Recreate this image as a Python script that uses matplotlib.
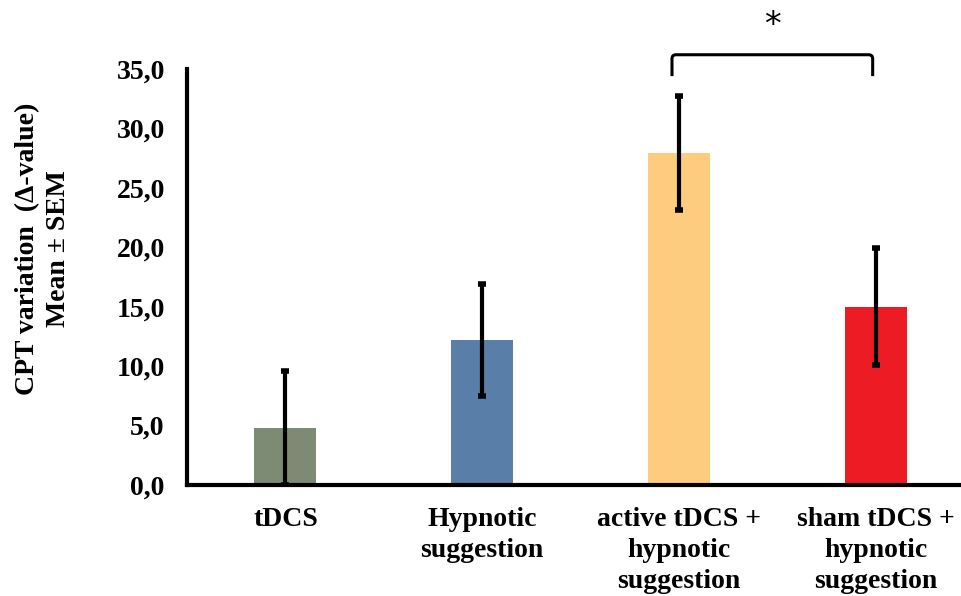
import matplotlib.pyplot as plt
from matplotlib.path import Path
from matplotlib.patches import PathPatch
from matplotlib.ticker import FuncFormatter

groups = ["tDCS", "Hypnotic\nsuggestion", "active tDCS +\nhypnotic\nsuggestion",
          "sham tDCS +\nhypnotic\nsuggestion"]
means = [4.8, 12.2, 27.9, 15.0]
sems = [4.8, 4.7, 4.8, 4.9]
colors = ["#7D8B75", "#597EA8", "#FECC7E", "#ED1C24"]
yticks = [0, 5, 10, 15, 20, 25, 30, 35]

plt.rcParams["font.family"] = ["Liberation Serif", "DejaVu Serif"]
plt.rcParams["font.weight"] = "bold"

fig = plt.figure(figsize=(9.61, 5.96), dpi=100)
ax = fig.add_axes([187 / 961, 1 - 485 / 596, 787 / 961, 416 / 596])

x = range(len(groups))
ax.bar(x, means, width=0.315, color=colors, zorder=2)
ax.errorbar(x, means, yerr=sems, fmt="none", ecolor="black", elinewidth=3,
            capsize=3, capthick=4, zorder=2.4)

ax.set_xlim(-0.5, 3.5)
ax.set_ylim(0, 35)
ax.set_yticks(yticks)
ax.yaxis.set_major_formatter(FuncFormatter(lambda v, p: f"{v:.1f}".replace(".", ",")))
ax.set_xticks(list(x))
ax.set_xticklabels(groups, linespacing=1.3)
ax.tick_params(axis="both", length=0, labelsize=20)
ax.tick_params(axis="y", pad=16)
ax.tick_params(axis="x", pad=16)
for lab in ax.get_xticklabels() + ax.get_yticklabels():
    lab.set_fontweight("bold")

for s in ["top", "right"]:
    ax.spines[s].set_visible(False)
for s in ["left", "bottom"]:
    ax.spines[s].set_linewidth(3)
    ax.spines[s].set_capstyle("projecting")

fig.text(43 / 961, 1 - 249 / 596, "CPT variation  (\u0394-value)\nMean \u00b1 SEM",
         rotation=90, ha="center", va="center", fontsize=20, fontweight="bold",
         linespacing=1.3)

# significance bracket between the two combined groups
x0, x1, yb, yt = 1.965, 2.985, 34.4, 36.2
rx, ry = 0.02, 0.35
verts = [(x0, yb), (x0, yt - ry), (x0, yt), (x0 + rx, yt), (x1 - rx, yt),
         (x1, yt), (x1, yt - ry), (x1, yb)]
codes = [Path.MOVETO, Path.LINETO, Path.CURVE3, Path.CURVE3, Path.LINETO,
         Path.CURVE3, Path.CURVE3, Path.LINETO]
ax.add_patch(PathPatch(Path(verts, codes), fill=False, lw=2.2, color="black",
                       clip_on=False))
ax.text((x0 + x1) / 2, 38.7, "*", ha="center", va="center", fontsize=24,
        fontweight="normal", family="DejaVu Sans", clip_on=False)

fig.savefig("out.png", dpi=100)
